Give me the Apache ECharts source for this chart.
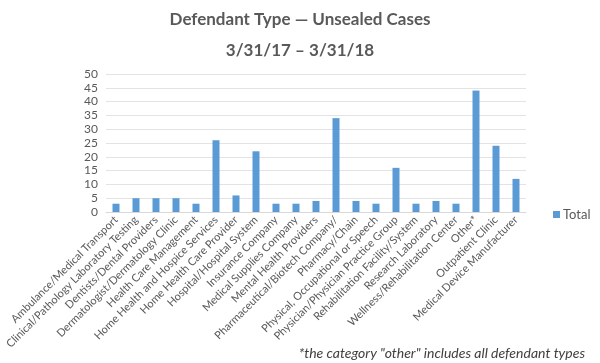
<!DOCTYPE html>
<html>
<head>
<meta charset="utf-8">
<script src="https://cdn.jsdelivr.net/npm/echarts@6/dist/echarts.min.js"></script>
<style>html,body{margin:0;padding:0;background:#fff}#c{width:600px;height:363px}</style>
</head>
<body>
<div id="c"></div>
<script>
var categories = [
  "Ambulance/Medical Transport",
  "Clinical/Pathology Laboratory Testing",
  "Dentists/Dental Providers",
  "Dermatologist/Dermatology Clinic",
  "Health Care Management",
  "Home Health and Hospice Services",
  "Home Health Care Provider",
  "Hospital/Hospital System",
  "Insurance Company",
  "Medical Supplies Company",
  "Mental Health Providers",
  "Pharmaceutical/Biotech Company/",
  "Pharmacy/Chain",
  "Physical, Occupational or Speech",
  "Physician/Physician Practice Group",
  "Rehabilitation Facility/System",
  "Research Laboratory",
  "Wellness/Rehabilitation Center",
  "Other*",
  "Outpatient Clinic",
  "Medical Device Manufacturer"
];
var totals = [3, 5, 5, 5, 3, 26, 6, 22, 3, 3, 4, 34, 4, 3, 16, 3, 4, 3, 44, 24, 12];
var titleText = "Defendant Type \u2014 Unsealed Cases";
var subtitleText = "3/31/17 \u2013 3/31/18";
var footnote = "*the category \"other\" includes all defendant types";

var chart = echarts.init(document.getElementById('c'), null, {renderer: 'canvas'});
var font = "Lato, 'Open Sans', sans-serif";
chart.setOption({
  animation: false,
  title: [
    {text: titleText, left: 'center', top: 6, textStyle: {fontFamily: font, fontSize: 17, fontWeight: 'bold', color: '#595959'}},
    {text: subtitleText, left: 'center', top: 37, textStyle: {fontFamily: font, fontSize: 17, fontWeight: 'bold', color: '#595959'}}
  ],
  legend: {
    data: ['Total'], orient: 'vertical', left: 548, top: 203,
    itemWidth: 7, itemHeight: 7, itemGap: 4, icon: 'rect',
    textStyle: {fontFamily: font, fontSize: 13, color: '#595959', padding: [0, 0, 0, -2]}
  },
  grid: {left: 106, right: 74, top: 74, bottom: 151, containLabel: false},
  xAxis: {
    type: 'category', data: categories,
    axisLine: {lineStyle: {color: '#d9d9d9'}},
    axisTick: {show: false},
    axisLabel: {rotate: 45, interval: 0, fontFamily: font, fontSize: 11, color: '#595959', margin: 6}
  },
  yAxis: {
    type: 'value', min: 0, max: 50, interval: 5,
    axisLine: {show: false}, axisTick: {show: false},
    splitLine: {lineStyle: {color: '#e3e3e3'}},
    axisLabel: {fontFamily: font, fontSize: 12, color: '#595959', margin: 8}
  },
  series: [{
    name: 'Total', type: 'bar', data: totals, barWidth: 7,
    itemStyle: {color: '#5b9bd5'}
  }],
  graphic: [{
    type: 'text', right: 15, top: 346,
    style: {text: footnote, fontFamily: font, fontSize: 14, fontStyle: 'italic', fill: '#404040'}
  }]
});
</script>
</body>
</html>
